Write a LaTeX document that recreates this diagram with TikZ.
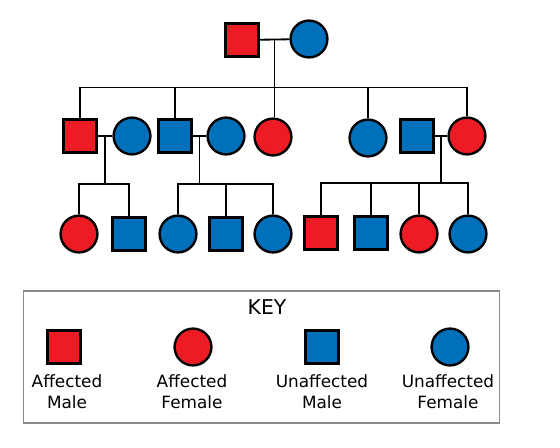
\documentclass[tikz,border=0pt]{standalone}
\usepackage{fontspec}
\setmainfont{DejaVu Sans}
\usepackage{tikz}
\usetikzlibrary{calc}
\definecolor{pdRed}{HTML}{ED1C24}
\definecolor{pdBlue}{HTML}{0070BB}
\definecolor{pdKey}{HTML}{8A8A8A}

\begin{document}
\begin{tikzpicture}[
  x=0.025cm, y=-0.025cm,
  male/.style={draw=black, line width=1.7pt, rectangle, minimum size=0.82cm, inner sep=0pt},
  female/.style={draw=black, line width=1.7pt, circle, minimum size=0.92cm, inner sep=0pt},
  aff/.style={fill=pdRed},
  unaff/.style={fill=pdBlue},
  tie/.style={line width=1.3pt, black},
  lbl/.style={align=center, font=\fontsize{12}{15}\selectfont},
  keybox/.style={draw=pdKey, line width=0.8pt, minimum width=11.9cm, minimum height=3.3cm}
]
  \useasboundingbox (0,0) rectangle (560,448);

  % first generation
  \node[male, aff] (gpa) at (242,40) {};
  \node[female, unaff] (gma) at (309,39) {};

  % second generation
  \node[male, aff] (p1) at (80,136) {};
  \node[female, unaff] (p2) at (132,136) {};
  \node[male, unaff] (p3) at (175,136) {};
  \node[female, unaff] (p4) at (226,136) {};
  \node[female, aff] (p5) at (273,137) {};
  \node[female, unaff] (p6) at (368,138) {};
  \node[male, unaff] (p7) at (417,136) {};
  \node[female, aff] (p8) at (467,136) {};

  % third generation
  \node[female, aff] (k1) at (79,234) {};
  \node[male, unaff] (k2) at (129,234) {};
  \node[female, unaff] (k3) at (178,234) {};
  \node[male, unaff] (k4) at (226,234) {};
  \node[female, unaff] (k5) at (273,234) {};
  \node[male, aff] (k6) at (321,233) {};
  \node[male, unaff] (k7) at (371,233) {};
  \node[female, aff] (k8) at (419,234) {};
  \node[female, unaff] (k9) at (468,234) {};

  % marriages and descent points
  \draw[tie] (gpa) -- (gma);
  \draw[tie] (p1) -- (p2);
  \draw[tie] (p3) -- (p4);
  \draw[tie] (p7) -- (p8);
  \coordinate (m0) at ($(gpa.east)!0.5!(gma.west)$);
  \coordinate (m1) at ($(p1.east)!0.5!(p2.west)$);
  \coordinate (m2) at ($(p3.east)!0.5!(p4.west)$);
  \coordinate (m3) at ($(p7.east)!0.5!(p8.west)$);
  \coordinate (b0) at ($(m0)+(0,48)$);
  \coordinate (b1) at ($(m1)+(0,48)$);
  \coordinate (b2) at ($(m2)+(0,48)$);
  \coordinate (b3) at ($(m3)+(0,47)$);

  % sibling lines
  \draw[tie] (m0) -- (m0 |- p5.north);
  \draw[tie] (p1.north) |- (b0) -| (p8.north);
  \draw[tie] (p3.north) -- (p3.north |- b0);
  \draw[tie] (p6.north) -- (p6.north |- b0);

  \draw[tie] (m1) -- (b1);
  \draw[tie] (k1.north) |- (b1) -| (k2.north);

  \draw[tie] (m2) -- (b2);
  \draw[tie] (k3.north) |- (b2) -| (k5.north);
  \draw[tie] (k4.north) -- (k4.north |- b2);

  \draw[tie] (m3) -- (b3);
  \draw[tie] (k6.north) |- (b3) -| (k9.north);
  \draw[tie] (k7.north) -- (k7.north |- b3);
  \draw[tie] (k8.north) -- (k8.north |- b3);

  % key
  \node[keybox] (key) at (261.5,357) {};
  \node[font=\fontsize{14.5}{17}\selectfont] (keyt) at (267,307) {KEY};
  \node[male, aff] (kam) at (64,347) {};
  \node[female, aff] (kaf) at (193,347) {};
  \node[male, unaff] (kum) at (322,347) {};
  \node[female, unaff] (kuf) at (450,347) {};
  \node[lbl] (lam) at (67,392) {Affected\\Male};
  \node[lbl] (laf) at (192,392) {Affected\\Female};
  \node[lbl] (lum) at (322,392) {Unaffected\\Male};
  \node[lbl] (luf) at (448,392) {Unaffected\\Female};
\end{tikzpicture}
\end{document}
